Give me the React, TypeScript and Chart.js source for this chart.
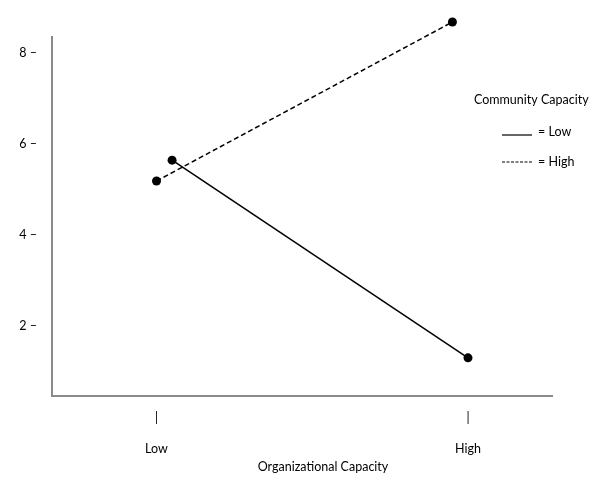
import React, { useEffect, useRef } from "react";
import { Chart, registerables } from "chart.js";

Chart.register(...registerables);

// ---- data ----
const xTickValues = [0, 1];
const xTickLabels = ["Low", "High"];
const yTickValues = [2, 4, 6, 8];
const seriesNames = ["= Low", "= High"];
const lowX = [0.05, 1.0];
const lowY = [5.64, 1.29];
const highX = [0.0, 0.95];
const highY = [5.18, 8.68];
const legendTitle = "Community Capacity";
const xTitle = "Organizational Capacity";

const FONT = "Lato, 'Open Sans', sans-serif";
const FONT_SIZE = 12.5;

// lets markers that sit above the plotted range (as in the original) still be drawn
const unclipPointsPlugin = {
  id: "unclipPoints",
  beforeDatasetsDraw(chart: any) {
    chart.$savedArea = chart.chartArea;
    chart.chartArea = { ...chart.chartArea, top: 0 };
  },
  afterDatasetsDraw(chart: any) {
    if (chart.$savedArea) chart.chartArea = chart.$savedArea;
  },
};

const overlayPlugin = {
  id: "overlay",
  afterDraw(chart: any) {
    const ctx = chart.ctx;
    ctx.save();
    ctx.fillStyle = "#000";
    ctx.font = `${FONT_SIZE}px ${FONT}`;
    ctx.textBaseline = "middle";
    ctx.textAlign = "center";
    ctx.fillText(xTitle, 323, 467);
    ctx.textAlign = "left";
    ctx.fillText(legendTitle, 474, 100);
    const rows = [
      { y: 132, lineY: 135 },
      { y: 162, lineY: 162 },
    ];
    chart.data.datasets.forEach((ds: any, i: number) => {
      const r = rows[i];
      ctx.save();
      ctx.strokeStyle = ds.borderColor;
      ctx.lineWidth = 1.2;
      ctx.setLineDash(ds.borderDash ? [3, 1.5] : []);
      ctx.beginPath();
      ctx.moveTo(502, r.lineY);
      ctx.lineTo(532, r.lineY);
      ctx.stroke();
      ctx.restore();
      ctx.fillText(ds.label, 538, r.y);
    });
    ctx.restore();
  },
};

export default function App() {
  const ref = useRef<HTMLCanvasElement | null>(null);

  useEffect(() => {
    if (!ref.current) return;
    const chart = new Chart(ref.current, {
      type: "line",
      data: {
        datasets: [
          {
            label: seriesNames[0],
            data: lowX.map((x, i) => ({ x, y: lowY[i] })),
            borderColor: "#000",
            backgroundColor: "#000",
            borderWidth: 1.5,
            pointRadius: 4.5,
            pointBorderWidth: 0,
            pointBackgroundColor: "#000",
            clip: false as any,
          },
          {
            label: seriesNames[1],
            data: highX.map((x, i) => ({ x, y: highY[i] })),
            borderColor: "#000",
            backgroundColor: "#000",
            borderWidth: 1.5,
            borderDash: [5, 3],
            pointRadius: 4.5,
            pointBorderWidth: 0,
            pointBackgroundColor: "#000",
            clip: false as any,
          },
        ],
      },
      options: {
        animation: false,
        responsive: true,
        maintainAspectRatio: false,
        layout: { padding: { top: 37, right: 48, left: 0, bottom: 0 } },
        plugins: {
          legend: { display: false },
          tooltip: { enabled: false },
          title: { display: false },
        },
        scales: {
          x: {
            type: "linear",
            min: -0.3355,
            max: 1.2697,
            grid: { display: false, drawTicks: false },
            border: { display: true, color: "#8a8a8a", width: 2 },
            afterBuildTicks: (scale: any) => {
              scale.ticks = xTickValues.map((v) => ({ value: v }));
            },
            afterFit: (scale: any) => {
              scale.height = 89;
            },
            ticks: {
              autoSkip: false,
              maxRotation: 0,
              padding: 6.5,
              color: "#000",
              font: { family: FONT, size: FONT_SIZE, lineHeight: "31px" } as any,
              callback: (v: any) => {
                const idx = xTickValues.indexOf(Number(v));
                return idx >= 0 ? ["|", xTickLabels[idx]] : "";
              },
            },
          },
          y: {
            type: "linear",
            min: 0.45,
            max: 8.35,
            grid: { display: false, drawTicks: false },
            border: { display: true, color: "#8a8a8a", width: 2 },
            afterBuildTicks: (scale: any) => {
              scale.ticks = yTickValues.map((v) => ({ value: v }));
            },
            afterFit: (scale: any) => {
              scale.width = 52;
            },
            ticks: {
              padding: 15,
              color: "#000",
              font: { family: FONT, size: FONT_SIZE },
              callback: (v: any) => `${v} –`,
            },
          },
        },
      },
      plugins: [unclipPointsPlugin, overlayPlugin],
    });
    return () => chart.destroy();
  }, []);

  return (
    <div style={{ position: "absolute", left: 0, top: 0, width: 600, height: 485, background: "#fff" }}>
      <canvas ref={ref} />
    </div>
  );
}
